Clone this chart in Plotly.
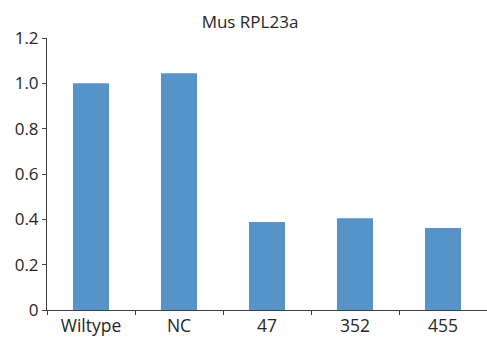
import plotly.graph_objects as go

categories = ["Wiltype", "NC", "47", "352", "455"]
values = [1.0, 1.045, 0.388, 0.405, 0.362]
y_tickvals = [0, 0.2, 0.4, 0.6, 0.8, 1.0, 1.2]
y_ticktext = ["0", "0.2", "0.4", "0.6", "0.8", "1.0", "1.2"]
title_text = "Mus RPL23a"

font_family = "Open Sans, sans-serif"
text_color = "#262626"

fig = go.Figure(go.Bar(x=categories, y=values, marker_color="#5593c9", marker_line_width=0))

fig.update_layout(
    width=487, height=338,
    margin=dict(l=47, r=0, t=38, b=28, autoexpand=False),
    paper_bgcolor="white", plot_bgcolor="white",
    bargap=0.59,
    showlegend=False,
    title=dict(text=title_text, x=250/487, xanchor="center", y=1-22/338, yanchor="middle",
               font=dict(family=font_family, size=17, color=text_color)),
    font=dict(family=font_family, size=17, color=text_color),
)
fig.update_xaxes(
    type="category", range=[-0.5, 4.5],
    showline=True, linecolor="#404040", linewidth=1,
    ticks="outside", tickson="boundaries", ticklen=4, tickcolor="#404040",
    showgrid=False, zeroline=False, automargin=False,
    tickfont=dict(family=font_family, size=17.5, color=text_color),
)
fig.update_yaxes(
    range=[0, 1.2], tickvals=y_tickvals, ticktext=y_ticktext,
    showline=True, linecolor="#404040", linewidth=1,
    ticks="outside", ticklen=4, tickcolor="#404040",
    showgrid=False, zeroline=False, automargin=False,
    tickfont=dict(family=font_family, size=17, color=text_color),
)

fig.write_html("out.html", config={"displayModeBar": False},
               post_script="document.body.style.margin='0';")
